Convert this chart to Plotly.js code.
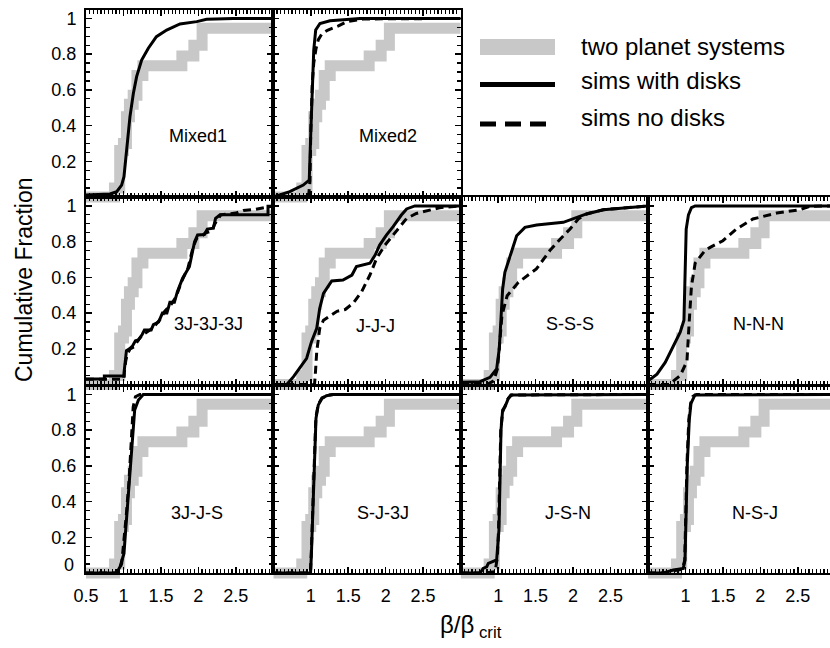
<!DOCTYPE html>
<html>
<head>
<meta charset="utf-8">
<script src="https://cdn.plot.ly/plotly-3.0.1.min.js"></script>
<style>html,body{margin:0;padding:0;background:#fff;overflow:hidden}</style>
</head>
<body>
<div id="chart" style="width:830px;height:648px"></div>
<script>
// ---- data ---------------------------------------------------------------
// observed two-planet systems: cumulative fraction (step function, same reference in every panel)
const twoPlanetX = [0.5, 0.88, 0.95, 1.00, 1.04, 1.08, 1.13, 1.18, 1.26, 1.78, 1.94, 2.05, 3.0];
const twoPlanetY = [0, 0.05, 0.26, 0.30, 0.45, 0.52, 0.57, 0.68, 0.735, 0.79, 0.85, 0.945, 0.945];

const panelNames = ['Mixed1', 'Mixed2', '3J-3J-3J', 'J-J-J', 'S-S-S', 'N-N-N', '3J-J-S', 'S-J-3J', 'J-S-N', 'N-S-J'];

// simulations with disks / without disks, per configuration
const mixed1DiskX = [0.5, 0.82, 0.91, 0.976, 1.007, 1.043, 1.087, 1.132, 1.176, 1.243, 1.332, 1.44, 1.577, 1.755, 1.978, 2.11, 2.467, 3.0];
const mixed1DiskY = [0.011, 0.017, 0.03, 0.067, 0.114, 0.263, 0.45, 0.58, 0.674, 0.767, 0.833, 0.898, 0.935, 0.969, 0.982, 0.995, 1.0, 1.0];

const mixed2DiskX = [0.5, 0.72, 0.9, 0.98, 1.0, 1.02, 1.04, 1.066, 1.123, 1.257, 1.657, 3.0];
const mixed2DiskY = [0.0, 0.03, 0.067, 0.095, 0.356, 0.636, 0.823, 0.935, 0.972, 0.987, 1.0, 1.0];
const mixed2NoDiskX = [0.97, 0.99, 1.0, 1.02, 1.04, 1.07, 1.1, 1.15, 1.23, 1.37, 1.48, 1.70, 3.0];
const mixed2NoDiskY = [0.0, 0.09, 0.356, 0.636, 0.75, 0.83, 0.88, 0.915, 0.935, 0.958, 0.982, 0.997, 1.0];

const threeJDiskX = [0.5, 0.745, 0.745, 1.01, 1.01, 1.04, 1.08, 1.12, 1.16, 1.2, 1.25, 1.28, 1.37, 1.4, 1.47, 1.52, 1.58, 1.62, 1.68, 1.72, 1.79, 1.84, 1.88, 1.95, 1.99, 2.08, 2.12, 2.2, 2.23, 2.29, 2.93, 2.93, 3.0];
const threeJDiskY = [0.031, 0.031, 0.048, 0.048, 0.075, 0.19, 0.2, 0.215, 0.245, 0.25, 0.28, 0.305, 0.305, 0.335, 0.35, 0.4, 0.4, 0.46, 0.46, 0.52, 0.595, 0.63, 0.66, 0.8, 0.837, 0.84, 0.87, 0.875, 0.93, 0.95, 0.95, 0.998, 0.998];
const threeJNoDiskX = [0.5, 1.0, 1.03, 1.05, 1.09, 1.14, 1.2, 1.26, 1.3, 1.37, 1.42, 1.5, 1.55, 1.64, 1.7, 1.78, 1.86, 1.93, 1.98, 2.04, 2.1, 2.18, 2.22, 2.3, 2.5, 2.6, 2.75, 2.9, 3.0];
const threeJNoDiskY = [0.03, 0.03, 0.13, 0.17, 0.2, 0.21, 0.25, 0.28, 0.29, 0.31, 0.33, 0.37, 0.41, 0.45, 0.49, 0.58, 0.65, 0.77, 0.82, 0.83, 0.85, 0.86, 0.9, 0.95, 0.96, 0.975, 0.98, 0.99, 1.0];

const jjjDiskX = [0.5, 0.68, 0.77, 0.88, 0.945, 1.01, 1.08, 1.12, 1.17, 1.28, 1.43, 1.55, 1.61, 1.79, 1.86, 1.92, 2.01, 2.10, 2.21, 2.28, 2.39, 3.0];
const jjjDiskY = [0, 0, 0.044, 0.109, 0.147, 0.24, 0.315, 0.427, 0.51, 0.58, 0.585, 0.613, 0.66, 0.679, 0.725, 0.781, 0.837, 0.884, 0.949, 0.983, 1.0, 1.0];
const jjjNoDiskX = [0.5, 1.05, 1.06, 1.08, 1.12, 1.17, 1.35, 1.46, 1.57, 1.68, 1.79, 1.88, 1.99, 2.08, 2.19, 2.28, 2.41, 2.59, 2.72, 3.0];
const jjjNoDiskY = [0, 0, 0.05, 0.185, 0.315, 0.36, 0.41, 0.42, 0.457, 0.52, 0.613, 0.707, 0.78, 0.826, 0.884, 0.93, 0.958, 0.977, 0.99, 1.0];

const sssDiskX = [0.5, 0.758, 0.891, 0.98, 1.015, 1.033, 1.06, 1.09, 1.158, 1.247, 1.358, 1.514, 1.87, 2.0, 2.18, 2.404, 2.716, 2.983, 3.0];
const sssDiskY = [0.012, 0.016, 0.04, 0.087, 0.2, 0.348, 0.535, 0.628, 0.721, 0.833, 0.88, 0.893, 0.908, 0.927, 0.955, 0.979, 0.992, 1.0, 1.0];
const sssNoDiskX = [0.5, 0.85, 0.94, 0.99, 1.015, 1.05, 1.12, 1.27, 1.51, 1.69, 1.83, 1.96, 2.07, 2.18, 2.404, 2.716, 3.0];
const sssNoDiskY = [0, 0, 0.02, 0.087, 0.2, 0.385, 0.497, 0.572, 0.647, 0.75, 0.815, 0.871, 0.927, 0.955, 0.979, 0.992, 1.0];

const nnnDiskX = [0.5, 0.62, 0.73, 0.84, 0.93, 0.98, 0.99, 1.0, 1.01, 1.04, 1.08, 1.13, 3.0];
const nnnDiskY = [0.02, 0.058, 0.124, 0.218, 0.293, 0.36, 0.5, 0.76, 0.87, 0.95, 0.99, 1.0, 1.0];
const nnnNoDiskX = [0.5, 0.78, 0.93, 1.02, 1.05, 1.08, 1.13, 1.26, 1.33, 1.5, 1.68, 1.9, 2.22, 2.53, 2.66, 3.0];
const nnnNoDiskY = [0, 0, 0.05, 0.13, 0.35, 0.55, 0.68, 0.75, 0.768, 0.805, 0.87, 0.927, 0.96, 0.979, 0.998, 1.0];

const tjsDiskX = [0.5, 0.91, 0.955, 1.007, 1.03, 1.065, 1.096, 1.12, 1.15, 1.2, 1.265, 3.0];
const tjsDiskY = [0, 0.002, 0.035, 0.11, 0.241, 0.427, 0.614, 0.763, 0.913, 0.969, 1.0, 1.0];
const tjsNoDiskX = [0.5, 0.93, 0.977, 1.0, 1.04, 1.075, 1.11, 1.13, 1.16, 1.22, 3.0];
const tjsNoDiskY = [0, 0, 0.054, 0.147, 0.334, 0.52, 0.745, 0.93, 0.987, 1.0, 1.0];

const sjDiskX = [0.5, 0.997, 1.01, 1.03, 1.05, 1.07, 1.1, 1.15, 1.21, 1.3, 3.0];
const sjDiskY = [0, 0, 0.12, 0.4, 0.68, 0.866, 0.94, 0.978, 0.993, 1.0, 1.0];
const sjNoDiskX = [0.5, 0.995, 1.008, 1.028, 1.048, 1.068, 1.1, 1.15, 1.22, 1.3, 3.0];
const sjNoDiskY = [0, 0, 0.12, 0.4, 0.68, 0.87, 0.945, 0.98, 0.995, 1.0, 1.0];

const jsnDiskX = [0.5, 0.76, 0.80, 0.847, 0.869, 0.936, 0.98, 0.99, 1.011, 1.025, 1.038, 1.06, 1.092, 1.136, 1.18, 3.0];
const jsnDiskY = [0, 0, 0.026, 0.035, 0.054, 0.063, 0.073, 0.129, 0.241, 0.521, 0.8, 0.913, 0.931, 0.978, 0.997, 1.0];
const jsnNoDiskX = [0.5, 0.83, 0.96, 0.99, 1.005, 1.02, 1.035, 1.058, 1.09, 1.13, 1.17, 3.0];
const jsnNoDiskY = [0, 0, 0.007, 0.09, 0.24, 0.5, 0.8, 0.9, 0.93, 0.975, 0.997, 1.0];

const nsjDiskX = [0.5, 0.705, 0.838, 0.971, 0.994, 1.007, 1.025, 1.051, 1.074, 1.127, 3.0];
const nsjDiskY = [0, 0, 0.017, 0.026, 0.073, 0.334, 0.614, 0.857, 0.95, 0.997, 1.0];
const nsjNoDiskX = [0.5, 0.75, 0.84, 0.96, 0.99, 1.003, 1.02, 1.045, 1.07, 1.1, 1.15, 3.0];
const nsjNoDiskY = [0, 0, 0.012, 0.022, 0.07, 0.33, 0.61, 0.86, 0.95, 0.99, 1.0, 1.0];

const diskCurves = [
  [mixed1DiskX, mixed1DiskY], [mixed2DiskX, mixed2DiskY], [threeJDiskX, threeJDiskY],
  [jjjDiskX, jjjDiskY], [sssDiskX, sssDiskY], [nnnDiskX, nnnDiskY],
  [tjsDiskX, tjsDiskY], [sjDiskX, sjDiskY], [jsnDiskX, jsnDiskY], [nsjDiskX, nsjDiskY]
];
const noDiskCurves = [
  null, [mixed2NoDiskX, mixed2NoDiskY], [threeJNoDiskX, threeJNoDiskY],
  [jjjNoDiskX, jjjNoDiskY], [sssNoDiskX, sssNoDiskY], [nnnNoDiskX, nnnNoDiskY],
  [tjsNoDiskX, tjsNoDiskY], [sjNoDiskX, sjNoDiskY], [jsnNoDiskX, jsnNoDiskY], [nsjNoDiskX, nsjNoDiskY]
];

// tick labels: first column carries 0.5, the others start at 1
const xTicksFirstCol = [0.5, 1, 1.5, 2, 2.5];
const xTicksOtherCols = [1, 1.5, 2, 2.5];
const yTicks = [0.2, 0.4, 0.6, 0.8, 1];

// ---- layout geometry ------------------------------------------------------
const W = 830, H = 648;
const FONT = 'Liberation Sans, Arial, Helvetica, sans-serif';
const colLeft = [86, 273.3, 460.7, 648];
const pxPerX = 74.9;
const rowTop = [9.5, 197, 385.5];
const rowH = 187.5;
const yTop = 1.05;
const pxPerY = rowH / yTop;
const grayExt = 8;           // the thick band is not clipped at the lower frame
const panelRow = [0, 0, 1, 1, 1, 1, 2, 2, 2, 2];
const panelCol = [0, 1, 0, 1, 2, 3, 0, 1, 2, 3];
const labelPos = [[2.0, 0.34], [2.03, 0.34], [2.13, 0.337], [1.86, 0.33], [1.96, 0.34], [1.98, 0.34],
                  [1.98, 0.337], [1.96, 0.337], [1.93, 0.337], [1.93, 0.337]];

// small frame ticks every 0.05
function minorSteps(lo, hi, step, skip) {
  const out = [];
  for (let k = Math.round(lo / step); k * step <= hi + 1e-9; k++) {
    const v = +(k * step).toFixed(4);
    if (Math.abs(v / skip - Math.round(v / skip)) > 1e-6) out.push(v);
  }
  return out;
}
const xMinor = minorSteps(0.5, 3.0, 0.05, 0.5);
const yMinor = minorSteps(0, 1.05, 0.05, 0.2);

const data = [];
const layout = {
  width: W, height: H,
  margin: {l: 0, r: 0, t: 0, b: 0},
  paper_bgcolor: '#ffffff', plot_bgcolor: 'rgba(0,0,0,0)',
  showlegend: false,
  font: {family: FONT, size: 18, color: '#000'},
  annotations: [], shapes: []
};

function axName(k) { return k === 1 ? '' : String(k); }

const tickFont = {family: FONT, size: 18, color: '#000'};

for (let p = 0; p < 10; p++) {
  const r = panelRow[p], c = panelCol[p];
  const left = colLeft[c];
  const right = Math.min(W, left + 2.5 * pxPerX);
  const xDom = [left / W, right / W];
  const xRange = [0.5, 0.5 + (right - left) / pxPerX];
  const yDom = [1 - (rowTop[r] + rowH) / H, 1 - rowTop[r] / H];
  const yDomExt = [1 - (rowTop[r] + rowH + grayExt) / H, 1 - rowTop[r] / H];

  // background band subplot (ids 1..10)
  const g = p + 1;
  layout['xaxis' + axName(g)] = {domain: xDom, range: xRange, visible: false, fixedrange: true, anchor: 'y' + axName(g)};
  layout['yaxis' + axName(g)] = {domain: yDomExt, range: [-grayExt / pxPerY, yTop], visible: false, fixedrange: true, anchor: 'x' + axName(g)};
  data.push({
    x: twoPlanetX, y: twoPlanetY, xaxis: 'x' + axName(g), yaxis: 'y' + axName(g),
    mode: 'lines', line: {shape: 'hv', color: '#c8c8c8', width: 11}, hoverinfo: 'skip'
  });

  // framed panel (ids 11..20)
  const m = p + 11;
  layout['xaxis' + m] = {
    domain: xDom, range: xRange, anchor: 'y' + m, fixedrange: true,
    showline: true, linecolor: '#000', linewidth: 2, mirror: 'ticks',
    ticks: 'inside', ticklen: 6, tickwidth: 1.5, tickcolor: '#000',
    tickmode: 'array', tickvals: c === 0 ? xTicksFirstCol : xTicksOtherCols,
    showticklabels: r === 2, ticklabelstandoff: 5, tickfont: tickFont,
    showgrid: false, zeroline: false
  };
  layout['yaxis' + m] = {
    domain: yDom, range: [0, yTop], anchor: 'x' + m, fixedrange: true,
    showline: true, linecolor: '#000', linewidth: 2, mirror: c === 3 ? false : 'ticks',
    ticks: 'inside', ticklen: 6, tickwidth: 1.5, tickcolor: '#000',
    tickmode: 'array', tickvals: yTicks,
    showticklabels: c === 0, ticklabelstandoff: 4, tickfont: tickFont,
    showgrid: false, zeroline: false
  };

  // small frame ticks on companion axes sharing the panel
  const mx = p + 21, my = p + 31;
  layout['xaxis' + mx] = {
    overlaying: 'x' + m, anchor: 'y' + m, range: xRange, fixedrange: true,
    showline: false, mirror: 'ticks', ticks: 'inside', ticklen: 4, tickwidth: 1.2, tickcolor: '#000',
    tickmode: 'array', tickvals: xMinor, showticklabels: false, showgrid: false, zeroline: false
  };
  layout['yaxis' + my] = {
    overlaying: 'y' + m, anchor: 'x' + m, range: [0, yTop], fixedrange: true,
    showline: false, mirror: c === 3 ? false : 'ticks', ticks: 'inside', ticklen: 4, tickwidth: 1.2, tickcolor: '#000',
    tickmode: 'array', tickvals: yMinor, showticklabels: false, showgrid: false, zeroline: false
  };
  data.push({x: [], y: [], xaxis: 'x' + mx, yaxis: 'y' + m, mode: 'lines', hoverinfo: 'skip'});
  data.push({x: [], y: [], xaxis: 'x' + m, yaxis: 'y' + my, mode: 'lines', hoverinfo: 'skip'});

  const nd = noDiskCurves[p];
  if (nd) {
    data.push({
      x: nd[0], y: nd[1], xaxis: 'x' + m, yaxis: 'y' + m, mode: 'lines',
      line: {color: '#000', width: 3, dash: '8px,5px'}, hoverinfo: 'skip'
    });
  }
  const wd = diskCurves[p];
  data.push({
    x: wd[0], y: wd[1], xaxis: 'x' + m, yaxis: 'y' + m, mode: 'lines',
    line: {color: '#000', width: 3}, hoverinfo: 'skip'
  });

  layout.annotations.push({
    xref: 'x' + m, yref: 'y' + m, x: labelPos[p][0], y: labelPos[p][1],
    text: panelNames[p], showarrow: false, xanchor: 'center', yanchor: 'middle',
    font: {family: FONT, size: 18, color: '#000'}
  });
}

// "0" on the bottom-left panel sits a little above the frame
layout.annotations.push({
  xref: 'paper', yref: 'y17', x: 76 / W, y: 0, yshift: 8, text: '0', showarrow: false,
  xanchor: 'right', yanchor: 'middle', font: {family: FONT, size: 18, color: '#000'}
});

// axis titles
layout.annotations.push({
  xref: 'paper', yref: 'paper', x: 24 / W, y: 1 - 280 / H, text: 'Cumulative Fraction',
  textangle: -90, showarrow: false, xanchor: 'center', yanchor: 'middle',
  font: {family: FONT, size: 23, color: '#000'}
});
layout.annotations.push({
  xref: 'paper', yref: 'paper', x: 471 / W, y: 1 - 626 / H, text: 'β/β<sub> crit</sub>',
  showarrow: false, xanchor: 'center', yanchor: 'middle',
  font: {family: FONT, size: 24, color: '#000'}
});

// key
const keyItems = [
  {text: 'two planet systems', y: 47},
  {text: 'sims with disks', y: 80},
  {text: 'sims no disks', y: 117}
];
keyItems.forEach(k => layout.annotations.push({
  xref: 'paper', yref: 'paper', x: 579 / W, y: 1 - k.y / H, text: k.text, showarrow: false,
  xanchor: 'left', yanchor: 'middle', font: {family: FONT, size: 24, color: '#000'}
}));
layout.shapes.push({type: 'rect', xref: 'paper', yref: 'paper', x0: 480 / W, x1: 555 / W,
  y0: 1 - 55 / H, y1: 1 - 39 / H, fillcolor: '#c8c8c8', line: {width: 0}});
layout.shapes.push({type: 'line', xref: 'paper', yref: 'paper', x0: 480 / W, x1: 555 / W,
  y0: 1 - 84.5 / H, y1: 1 - 84.5 / H, line: {color: '#000', width: 5}});
layout.shapes.push({type: 'line', xref: 'paper', yref: 'paper', x0: 480 / W, x1: 555 / W,
  y0: 1 - 124 / H, y1: 1 - 124 / H, line: {color: '#000', width: 5, dash: '16px,9px'}});

Plotly.newPlot('chart', data, layout, {staticPlot: true, displayModeBar: false});
</script>
</body>
</html>
